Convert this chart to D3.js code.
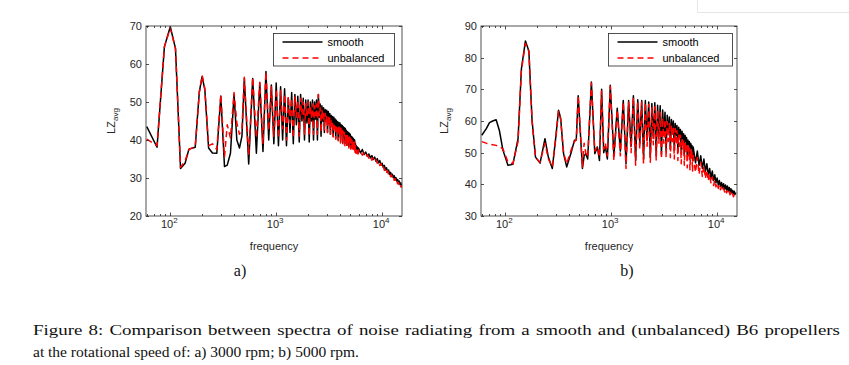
<!DOCTYPE html>
<html><head><meta charset="utf-8">
<script src="https://cdn.jsdelivr.net/npm/d3@7"></script>
<style>body{margin:0;background:#fff}svg{display:block}</style>
</head><body>
<svg id="c" width="849" height="365"></svg>
<script>
// ---------- data ----------
const seriesNames = ["smooth", "unbalanced"];
const yTicksA = [20, 30, 40, 50, 60, 70];
const yTicksB = [30, 40, 50, 60, 70, 80, 90];
const xTickExponents = [2, 3, 4];

// a) 3000 rpm
const freqA = [60,75,88,100,112,125,138,150,172,188,200,212,230,250,275,300,325,345,370,400,425,450,475,500,
550,600,650,700,750,800,850,900,950,1000,
1050,1100,1150,1200,1250,1300,1350,1400,1450,1500,
1550,1600,1650,1700,1750,1800,1850,1900,1950,2000,
2050,2100,2150,2200,2250,2300,2350,2400,2450,2500,
2550,2600,2650,2700,2750,2800,2850,2900,2950,3000,
3050,3100,3150,3200,3250,3300,3350,3400,3450,3500,
3550,3600,3650,3700,3750,3800,3850,3900,3950,4000,
4050,4100,4150,4200,4250,4300,4350,4400,4450,4500,
4550,4600,4650,4700,4750,4800,4850,4900,4950,5000,
5050,5100,5150,5200,5250,5300,5350,5400,5450,5500,
5550,5600,5650,5700,5750,5800,5850,5900,5950,6000,
6250,6500,6750,7000,7250,7500,7750,8000,8250,8500,
8750,9000,9250,9500,9750,10000,10250,10500,10750,11000,
11250,11500,11750,12000,12250,12500,12750,13000,13250,13500,
13750,14000,14250,14500,14750,15000,15250,15500];
const smoothA = [43.5,38.1,64.5,69.8,64.1,32.5,33.9,37.6,38.1,52.7,56.7,53.2,37.9,36.6,36.5,51.5,33,33.4,36.5,52,40,37.9,41,56.2,
33.7,56.2,36.5,55,37,58,40,54.5,39,55,
38.5,54,40,53.5,38.5,51,42,52.5,39,52,
44,51.5,39.5,52,45,51,40,50.5,44.5,50.5,
39.5,50,45,50.5,40,50,45.5,50.5,40,52,
46,49.5,41,49,45,48.5,42,48,45,47.8,
42,47.5,44.5,47,41.5,46.5,44,46.2,41,46,
43.5,45.5,40.5,45.2,43,44.8,40,44.6,42.5,44.5,
39.5,44,42,43.8,39.2,43.5,41.5,43.2,39,43,
41,42.5,38.6,42.2,40.5,42,38.3,41.8,40,41.5,
38,41,39.5,40.8,37.8,40.5,39,40.2,37.5,40,
38,39,37,38.5,37,38.2,36.8,38,36.8,37.8,
36.6,37.5,36.2,36.8,35.8,36.3,35.3,35.9,34.9,35.5,
34.4,35.1,34.0,34.6,33.4,33.9,32.8,33.3,32.1,32.7,
31.6,32.1,31.0,31.5,30.6,31.0,30.1,30.6,29.7,30.1,
29.2,29.6,28.8,29.2,28.3,28.7,27.9,28.1];
const unbalancedA = [40.2,38.5,64.5,69.5,64,32.8,34.5,37.5,38.3,52.5,57,53.5,38.5,39,37.5,52,35.5,44,40.5,52.5,44.5,41.5,43,56.5,
36,56.5,40.5,55.2,39,58,42.5,54,41,53.5,
40.5,53,43,52,40,51.5,44.5,51,40.5,51.5,
46,50.5,41,51,46.5,50,41.5,49.5,46,50,
41,49,46,49.5,41.5,49,46.5,49.5,41.5,52,
46.5,48.5,42,48,45.5,47.5,42.5,47,45,46.5,
42,46.2,44,45.8,41.5,45.2,43.5,45,40.8,44.5,
43,44.2,40.2,44,42.5,43.6,39.8,43.4,42,43.2,
39.2,43,41.5,42.6,38.8,42.3,41,42,38.5,41.8,
40.5,41.5,38.2,41.2,40,41,37.9,40.8,39.5,40.5,
37.6,40.2,39,40,37.4,39.8,38.6,39.6,37.2,39.5,
36.5,38.5,36.5,38,36.6,37.8,36.4,37.6,36.4,37.4,
36.9,36.0,36.6,35.6,36.1,35.2,35.7,34.7,35.3,34.3,
34.8,33.9,34.4,33.3,33.8,32.7,33.1,32.0,32.5,31.5,
31.9,30.9,31.3,30.4,30.8,29.9,30.3,29.4,29.8,28.9,
29.3,28.5,28.8,28.0,28.4,27.7,28.0,27.5];

// b) 5000 rpm
const freqB = [60,66,71,76,82,88,95,106,118,132,142,155,167,179,193,213,237,255,278,300,
318,333,355,380,420,450,468,488,510,535,555,575,600,650,700,740,775,812,850,880,920,
980,1060,1140,1220,1300,1380,1460,1540,1620,1700,
1780,1860,1940,2020,2100,2180,2260,2340,2420,2500,
2580,2660,2740,2820,2900,2980,3060,3140,3220,3300,
3380,3460,3540,3620,3700,3780,3860,3940,4020,4100,
4180,4260,4340,4420,4500,4580,4660,4740,4820,4900,
4980,5060,5140,5220,5300,5380,5460,5540,5620,5700,
5780,5860,5940,6020,
6250,6500,6750,7000,7250,7500,7750,8000,8250,8500,
8750,9000,9250,9500,9750,10000,10250,10500,10750,11000,
11250,11500,11750,12000,12250,12500,12750,13000,13250,13500,
13750,14000,14250,14500,14750,15000];
const smoothB = [55.5,57.5,59.5,60,60.4,57,50.8,46,46.3,54.4,76.5,85.3,82.1,60.2,48.6,46.7,54.4,48.6,45,55,
63.4,61,49.7,45.5,50.2,53.9,54,68,57,45,49,49.7,48,72.3,49.7,51.8,47.5,70,50,52,48,
71.3,49,64,50.5,66.5,46.5,66.5,52,68,47.5,
66.7,53,66.5,48,66.5,54,66,48.5,65.5,54.5,
65.8,49,65,55,64.8,49.5,63.5,55.5,62.8,50.5,
61.8,56,61.3,51,60.5,56,60,50.8,59.2,55.5,
58.6,50.5,58,55,57.3,50,56.8,54.5,56,49.5,
55.5,53.5,54.8,49,54,52.5,53.5,48.2,53,51.5,
52.3,47.5,51.8,50.5,
46.8,50.5,46,49,45,48,44,46.5,43,45,
42,44.2,41.2,43,40.5,42,39.8,41.2,39.3,40.6,
38.9,40.2,38.5,39.8,38.2,39.5,37.9,39,37.6,38.6,
37.3,38.1,37,37.8,36.8,37.4];
const unbalancedB = [53.5,53,52.7,52.5,52.3,52,51.2,47,46.5,53.5,76,84.5,82,60,48.5,47,53,48,45.5,54.5,
63,60.5,50,46.5,51,53.5,54,68,57.5,45.5,53,50,48.5,72,50.5,52,48.5,69.5,51,53,49,
71,47.5,63.5,49,66,45,66,50,67.5,46,
66.2,51,66,46.5,65.8,52,65.2,47,64.5,52.5,
64.5,47.5,63.5,53,62.8,48,61,53,60.5,48.5,
59.8,53.5,59.2,48.5,58.8,53.5,58.3,48,57.6,52.5,
57,47.5,56,52,55.5,46.5,54.8,51,54,46,
53.5,50,52.8,45.2,52.3,49,51.5,44.6,51,48.3,
50.2,44,49.8,47.5,
43.8,48.5,43.2,47,42.5,45.8,41.8,44.5,41,43.3,
40.3,42.3,39.6,41.3,39.2,40.4,38.7,39.8,38.3,39.2,
37.9,38.8,37.6,38.4,37.3,38,37,37.7,36.7,37.4,
36.4,37,36.1,36.7,35.9,36.3];

const captionLines = [
  "Figure 8: Comparison between spectra of noise radiating from a smooth and (unbalanced) B6 propellers",
  "at the rotational speed of: a) 3000 rpm; b) 5000 rpm."
];

// ---------- drawing ----------
const svg = d3.select("#c");
const SANS = "'Liberation Sans', Arial, Helvetica, sans-serif";
const SERIF = "'Liberation Serif', 'DejaVu Serif', serif";
const AX = "#262626";

function panel(o) {
  const g = svg.append("g");
  const x = d3.scaleLog().domain(o.xDomain).range([o.left, o.right]);
  const y = d3.scaleLinear().domain(o.yDomain).range([o.bottom, o.top]);
  const cid = "clip" + o.id;
  svg.append("defs").append("clipPath").attr("id", cid)
    .append("rect").attr("x", o.left).attr("y", o.top)
    .attr("width", o.right - o.left).attr("height", o.bottom - o.top);

  const line = d3.line().x(d => x(d[0])).y(d => y(d[1]));
  const sData = o.freq.map((f, i) => [f, o.smooth[i]]);
  const uData = o.freq.map((f, i) => [f, o.unbal[i]]);
  const lg = g.append("g").attr("clip-path", `url(#${cid})`);
  lg.append("path").datum(sData).attr("d", line)
    .attr("fill", "none").attr("stroke", "#000").attr("stroke-width", 1.5)
    .attr("stroke-linejoin", "round");
  lg.append("path").datum(uData).attr("d", line)
    .attr("fill", "none").attr("stroke", "#ff0000").attr("stroke-width", 1.5)
    .attr("stroke-dasharray", "6,4").attr("stroke-linejoin", "round");

  // box
  g.append("rect").attr("x", o.left).attr("y", o.top)
    .attr("width", o.right - o.left).attr("height", o.bottom - o.top)
    .attr("fill", "none").attr("stroke", AX).attr("stroke-width", 0.8);

  // y ticks (inside, both sides)
  o.yTicks.forEach(t => {
    const yy = Math.round(y(t)) + 0.5;
    g.append("line").attr("x1", o.left).attr("x2", o.left + 3).attr("y1", yy).attr("y2", yy)
      .attr("stroke", AX).attr("stroke-width", 0.8);
    g.append("line").attr("x1", o.right - 3).attr("x2", o.right).attr("y1", yy).attr("y2", yy)
      .attr("stroke", AX).attr("stroke-width", 0.8);
    g.append("text").attr("x", o.left - 4).attr("y", y(t) + 4)
      .attr("text-anchor", "end").attr("font-family", SANS).attr("font-size", 11)
      .attr("fill", AX).text(t);
  });

  // x ticks: major + minor log ticks
  const [d0, d1] = o.xDomain;
  for (let e = 1; e <= 4; e++) {
    for (let m = 1; m <= 9; m++) {
      const v = m * Math.pow(10, e);
      if (v < d0 || v > d1) continue;
      const xx = Math.round(x(v)) + 0.5;
      const len = m === 1 ? 3.5 : 2;
      g.append("line").attr("x1", xx).attr("x2", xx).attr("y1", o.bottom).attr("y2", o.bottom - len)
        .attr("stroke", AX).attr("stroke-width", 0.8);
      g.append("line").attr("x1", xx).attr("x2", xx).attr("y1", o.top).attr("y2", o.top + len)
        .attr("stroke", AX).attr("stroke-width", 0.8);
    }
  }
  o.xExp.forEach(e => {
    const t = g.append("text").attr("x", x(Math.pow(10, e)) - 1).attr("y", o.bottom + 12)
      .attr("text-anchor", "middle").attr("font-family", SANS).attr("font-size", 11).attr("fill", AX);
    t.append("tspan").text("10");
    t.append("tspan").attr("font-size", 8).attr("dy", -5).text(e);
  });

  // axis labels
  g.append("text").attr("x", (o.left + o.right) / 2).attr("y", o.bottom + 34)
    .attr("text-anchor", "middle").attr("font-family", SANS).attr("font-size", 11)
    .attr("fill", AX).text("frequency");
  const yl = g.append("text")
    .attr("transform", `translate(${o.ylabX},${(o.top + o.bottom) / 2}) rotate(-90)`)
    .attr("text-anchor", "middle").attr("font-family", SANS).attr("font-size", 11).attr("fill", AX);
  yl.append("tspan").text("LZ");
  yl.append("tspan").attr("font-size", 8).attr("dy", 3).text("avg");

  // legend
  const L = o.legend;
  g.append("rect").attr("x", L.x).attr("y", L.y).attr("width", L.w).attr("height", L.h)
    .attr("fill", "#fff").attr("stroke", AX).attr("stroke-width", 0.8);
  [["#000", null], ["#ff0000", "6,4"]].forEach((s, i) => {
    const ly = L.y + 8.5 + i * 16;
    const ln = g.append("line").attr("x1", L.x + 9).attr("x2", L.x + 49).attr("y1", ly).attr("y2", ly)
      .attr("stroke", s[0]).attr("stroke-width", 1.5);
    if (s[1]) ln.attr("stroke-dasharray", s[1]);
    g.append("text").attr("x", L.x + 54).attr("y", ly + 4).attr("font-family", SANS)
      .attr("font-size", 11).attr("fill", "#000").text(seriesNames[i]);
  });

  svg.append("text").attr("x", o.subX).attr("y", 276).attr("text-anchor", "middle")
    .attr("font-family", SERIF).attr("font-size", 16).attr("fill", "#111").text(o.sub);
}

panel({id: "A", left: 146, right: 402, top: 26, bottom: 216, xDomain: [59, 15400], yDomain: [20, 70],
  yTicks: yTicksA, xExp: xTickExponents, freq: freqA, smooth: smoothA, unbal: unbalancedA,
  ylabX: 115, legend: {x: 273.5, y: 33.5, w: 121, h: 32.5}, sub: "a)", subX: 240});
panel({id: "B", left: 481, right: 737, top: 26, bottom: 216, xDomain: [59, 15400], yDomain: [30, 90],
  yTicks: yTicksB, xExp: xTickExponents, freq: freqB, smooth: smoothB, unbal: unbalancedB,
  ylabX: 448, legend: {x: 608.5, y: 33.5, w: 124, h: 32.5}, sub: "b)", subX: 627});

// caption: first line justified to the full width, second line natural
const capFull = 807;
captionLines.forEach((s, i) => {
  const t = svg.append("text").attr("x", 33).attr("y", 335 + i * 22)
    .attr("font-family", SERIF).attr("font-size", 15.5).attr("fill", "#111").text(s);
  if (i === 0) {
    t.attr("word-spacing", 1.2);
    t.attr("textLength", capFull).attr("lengthAdjust", "spacingAndGlyphs");
  }
});

// faint page border at top right
svg.append("path").attr("d", "M697.5,0 V12.5 H849").attr("fill", "none").attr("stroke", "#e6e6e6");
</script>
</body></html>
